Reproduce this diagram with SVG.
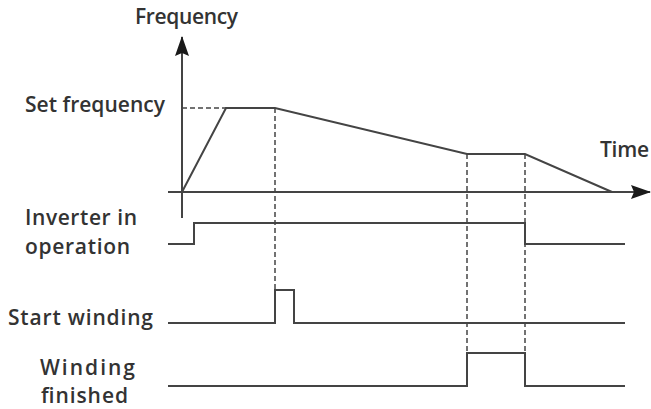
<svg xmlns="http://www.w3.org/2000/svg" width="651" height="409" viewBox="0 0 651 409">
<style>
.t{font-family:"Open Sans","Liberation Sans",sans-serif;font-size:21px;font-weight:600;fill:#333}
.s{fill:none;stroke:#444;stroke-width:2}
.d{fill:none;stroke:#444;stroke-width:1.5;stroke-dasharray:5 3}
</style>
<defs>
<marker id="ah" markerWidth="20" markerHeight="14" refX="19" refY="7" orient="auto" markerUnits="userSpaceOnUse" viewBox="0 0 20 14">
<path d="M0,0 L20,7 L0,14 L3,7 Z" fill="#1a1a1a"/>
</marker>
</defs>
<rect width="651" height="409" fill="#fff"/>
<g id="connectors">
<line class="s" x1="182" y1="218" x2="182" y2="37" marker-end="url(#ah)"/>
<line class="s" x1="168" y1="192" x2="650" y2="192" marker-end="url(#ah)"/>
</g>
<g id="labels">
<text class="t" x="135" y="24" textLength="103">Frequency</text>
<text class="t" x="25" y="112" textLength="140">Set frequency</text>
<text class="t" x="600" y="157" textLength="49">Time</text>
<text class="t" x="25" y="225" textLength="112">Inverter in</text>
<text class="t" x="25" y="254" textLength="105">operation</text>
<text class="t" x="8" y="325" textLength="145">Start winding</text>
<text class="t" x="40" y="375" textLength="95">Winding</text>
<text class="t" x="41" y="403" textLength="87">finished</text>
</g>
<g id="frequency-curve">
<line class="d" x1="182" y1="108" x2="226" y2="108"/>
<polyline class="s" points="182,192 226,108 275,108 467,154 525,154 612,192"/>
</g>
<g id="guides">
<line class="d" x1="275" y1="108" x2="275" y2="290"/>
<line class="d" x1="467" y1="154" x2="467" y2="353"/>
<line class="d" x1="525" y1="154" x2="525" y2="353"/>
</g>
<g id="inverter-signal">
<polyline class="s" points="168,244 194,244 194,223 525,223 525,244 625,244"/>
</g>
<g id="start-signal">
<polyline class="s" points="168,323 275,323 275,290 294,290 294,323 625,323"/>
</g>
<g id="finished-signal">
<polyline class="s" points="168,386 467,386 467,353 525,353 525,386 625,386"/>
</g>
</svg>
